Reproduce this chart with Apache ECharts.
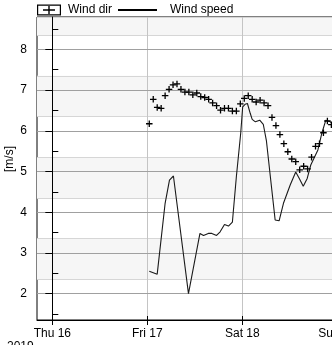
<!DOCTYPE html>
<html><head><meta charset="utf-8">
<script src="https://cdn.jsdelivr.net/npm/echarts@6/dist/echarts.min.js"></script>
<style>html,body{margin:0;padding:0;background:#fff}#c{width:332px;height:345px}</style>
</head><body><div id="c"></div>
<script>
const dayLabels = ['Thu 16', 'Fri 17', 'Sat 18', 'Sun 19'];
const dayHours = [0, 24, 48, 72];
const speedTicks = [2, 3, 4, 5, 6, 7, 8];
const speedMinorTicks = [1.5, 2.5, 3.5, 4.5, 5.5, 6.5, 7.5, 8.5];

const speedHours = [24.5, 26.5, 28.5, 29.6, 30.6, 34.4, 37.3, 38.2, 39.4, 40.3, 41.5, 42.4, 43.5, 44.5, 45.5,
  46.5, 47.6, 48.1, 48.7, 49.3, 50.0, 50.5, 51.3, 52.4, 53.3, 54.1, 55.0, 56.3, 57.3, 58.4,
  60.1, 61.5, 62.4, 63.4, 64.4, 65.3, 67.1, 68.1, 69.1, 70.2, 71.2];
const speedValues = [2.55, 2.48, 4.22, 4.79, 4.89, 2.0, 3.48, 3.43, 3.48, 3.48, 3.43, 3.52, 3.70, 3.66, 3.76,
  4.87, 5.94, 6.59, 6.65, 6.67, 6.43, 6.28, 6.22, 6.26, 6.16, 5.75, 4.95, 3.81, 3.79, 4.22,
  4.67, 4.99, 4.83, 4.64, 4.83, 5.16, 5.53, 5.94, 6.26, 6.22, 6.15];

const dirHours = [24.5, 25.5, 26.5, 27.5, 28.5, 29.5, 30.5, 31.5, 32.5, 33.5, 34.5, 35.5, 36.5, 37.5, 38.5, 39.5,
  40.5, 41.5, 42.5, 43.5, 44.5, 45.5, 46.5, 47.5, 48.5, 49.5, 50.5, 51.5, 52.5, 53.5, 54.5, 55.5,
  56.5, 57.5, 58.5, 59.5, 60.5, 61.5, 62.5, 63.5, 64.5, 65.5, 66.5, 67.5, 68.5, 69.5, 70.5];
const dirValues = [217, 244, 235, 234, 248, 255, 260, 261, 255, 252, 252, 249, 251, 247, 246, 244,
  240, 237, 232, 234, 234, 231, 231, 239, 245, 248, 244, 241, 243, 240, 237, 224,
  215, 205, 195, 186, 178, 175, 166, 170, 167, 180, 192, 195, 207, 220, 216];

const FONT = 'Liberation Sans, Arial, sans-serif';
const plusPath = 'path://M0,4H10V6H0Z M4,0H6V10H4Z';
const boxPlusPath = 'path://M0,0H24V11H0Z M1.2,1.2V9.8H22.8V1.2Z M6,4.8H18V6.2H6Z M11.3,1.5H12.7V9.5H11.3Z';
const linePath = 'path://M0,0H39V2H0Z';

const chart = echarts.init(document.getElementById('c'), null, {renderer: 'canvas'});
chart.setOption({
  animation: false,
  backgroundColor: '#fff',
  textStyle: {fontFamily: FONT},
  title: {text: '2019', left: 7, top: 341, padding: 0, textStyle: {fontSize: 12, fontWeight: 'normal', color: '#000', fontFamily: FONT}},
  legend: [
    {data: [{name: 'Wind dir', icon: boxPlusPath}], left: 37, top: 4, itemWidth: 24, itemHeight: 11, padding: 0,
      itemStyle: {color: '#000', opacity: 1},
      textStyle: {fontSize: 12, color: '#000', fontFamily: FONT, padding: [0, 0, 0, 2]}},
    {data: [{name: 'Wind speed', icon: linePath}], left: 118, top: 4, itemWidth: 39, itemHeight: 11, padding: 0,
      itemStyle: {color: '#000'},
      textStyle: {fontSize: 12, color: '#000', fontFamily: FONT, padding: [0, 0, 0, 8]}}
  ],
  grid: {left: 37, right: -6, top: 17, bottom: 25, show: true, borderColor: '#000', borderWidth: 1,
    backgroundColor: 'transparent', containLabel: false, outerBoundsMode: 'none'},
  xAxis: [
    {type: 'value', min: -3.87, max: 72.18, z: 1,
      axisLine: {show: true, lineStyle: {color: '#000', width: 1}},
      axisTick: {show: true, inside: false, length: 5, customValues: dayHours, lineStyle: {color: '#000'}},
      axisLabel: {show: true, customValues: dayHours, margin: 8, fontSize: 12, color: '#000', fontFamily: FONT,
        hideOverlap: false, formatter: v => dayLabels[dayHours.indexOf(v)] || ''},
      splitLine: {show: true, lineStyle: {color: '#c4c4c4', width: 1}}},
    {type: 'value', min: -3.87, max: 72.18, position: 'bottom', z: 1,
      axisLine: {show: false},
      axisTick: {show: true, inside: true, length: 4, customValues: dayHours, lineStyle: {color: '#000'}},
      axisLabel: {show: false}, splitLine: {show: false}}
  ],
  yAxis: [
    {type: 'value', min: 1.354, max: 8.794, splitNumber: 7, position: 'left', z: 2,
      name: '[m/s]', nameLocation: 'middle', nameGap: 21, nameRotate: 90, nameMoveOverlap: false,
      nameTextStyle: {fontSize: 12, color: '#000', fontFamily: FONT, padding: [0, 0, 0, 19]},
      axisLine: {show: true, lineStyle: {color: '#000', width: 1}},
      axisTick: {show: true, inside: false, length: 7, customValues: speedTicks, lineStyle: {color: '#000'}},
      axisLabel: {show: true, customValues: speedTicks, margin: 10, fontSize: 12, color: '#000', fontFamily: FONT},
      splitLine: {show: true, lineStyle: {color: '#a0a0a0', width: 1}}},
    {type: 'value', min: 1.354, max: 8.794, position: 'left', z: 2,
      axisLine: {show: false},
      axisTick: {show: true, inside: true, length: 6, customValues: speedMinorTicks, lineStyle: {color: '#000'}},
      axisLabel: {show: false}, splitLine: {show: false}},
    {type: 'value', min: 0, max: 335, interval: 45, position: 'right', z: 0,
      axisLine: {show: false}, axisTick: {show: false}, axisLabel: {show: false},
      splitLine: {show: true, lineStyle: {color: '#d6d6d6', width: 1}},
      splitArea: {show: true, areaStyle: {color: ['rgba(0,0,0,0)', '#f6f6f6']}}}
  ],
  series: [
    {name: 'Wind dir', type: 'scatter', xAxisIndex: 0, yAxisIndex: 2, z: 4,
      symbol: plusPath, symbolSize: 6.5, itemStyle: {color: '#000', opacity: 1},
      data: dirHours.map((h, i) => [h, dirValues[i]])},
    {name: 'Wind speed', type: 'line', xAxisIndex: 0, yAxisIndex: 0, z: 3,
      showSymbol: false, symbol: 'none', lineStyle: {color: '#1a1a1a', width: 1.1}, itemStyle: {color: '#000'},
      data: speedHours.map((h, i) => [h, speedValues[i]])}
  ]
});
</script>
</body></html>
